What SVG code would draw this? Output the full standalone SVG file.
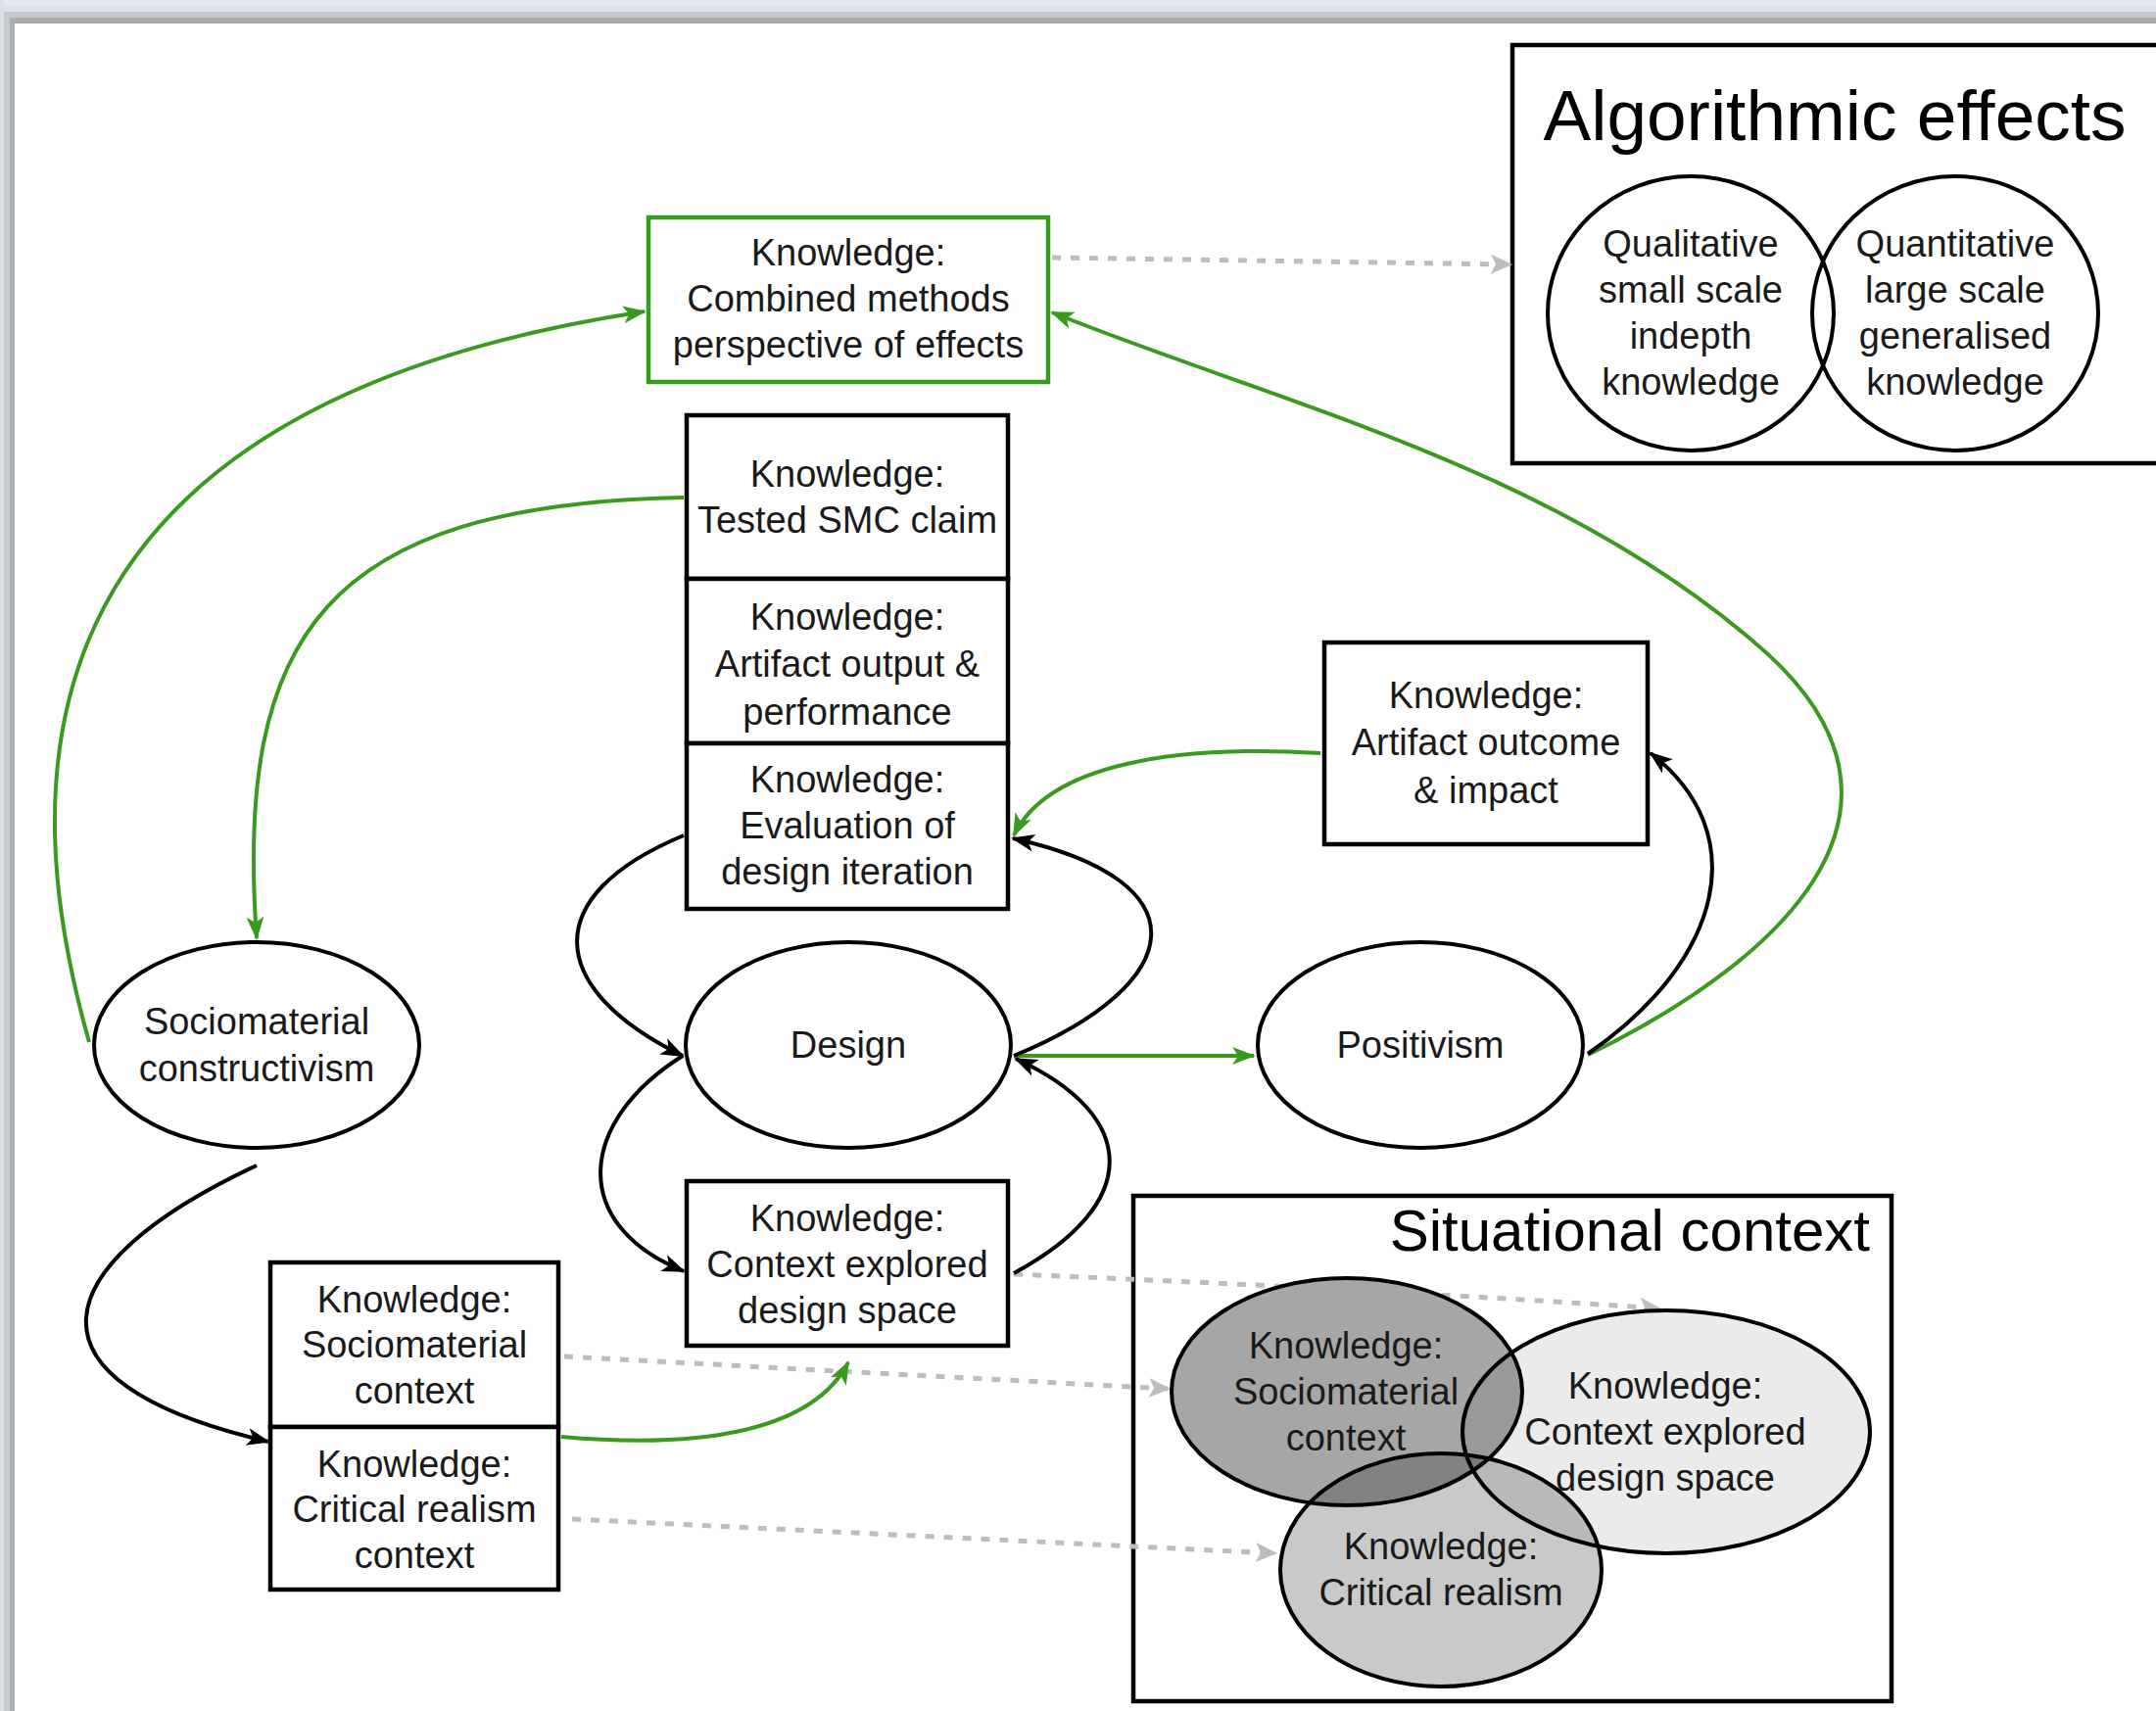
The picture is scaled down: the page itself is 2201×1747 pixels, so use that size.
<svg xmlns="http://www.w3.org/2000/svg" width="2201" height="1747" viewBox="0 0 2201 1747">
<defs>
<style>
.box{fill:#fff;stroke:#000;stroke-width:4.5}
.gbox{fill:#fff;stroke:#3a9a20;stroke-width:4.5}
.ell{fill:#fff;stroke:#000;stroke-width:4}
.t{font-family:"Liberation Sans",Arial,sans-serif;font-size:38px;fill:#1a1a1a;text-anchor:middle;dominant-baseline:central}
.title{font-family:"Liberation Sans",Arial,sans-serif;fill:#000}
.g{fill:none;stroke:#3a9a20;stroke-width:4}
.k{fill:none;stroke:#000;stroke-width:4}
.d{fill:none;stroke:#bdbdbd;stroke-width:5;stroke-dasharray:9 10}
.vo{fill:none;stroke:#000;stroke-width:4}
</style>
<marker id="ag" markerUnits="userSpaceOnUse" markerWidth="26" markerHeight="20" refX="22" refY="10" orient="auto">
<path d="M0,1 L24,10 L0,19 L6,10 z" fill="#3a9a20"/>
</marker>
<marker id="ak" markerUnits="userSpaceOnUse" markerWidth="26" markerHeight="20" refX="22" refY="10" orient="auto">
<path d="M0,1 L24,10 L0,19 L6,10 z" fill="#000"/>
</marker>
<marker id="ad" markerUnits="userSpaceOnUse" markerWidth="26" markerHeight="22" refX="20" refY="11" orient="auto">
<path d="M0,1 L22,11 L0,21 L5,11 z" fill="#bdbdbd"/>
</marker>
</defs>
<rect x="0" y="0" width="2201" height="1747" fill="#fff"/>
<g id="frame">
<rect x="0" y="0" width="2201" height="6" fill="#e4e8f0"/>
<rect x="0" y="6" width="2201" height="6" fill="#dde0e8"/>
<rect x="0" y="12" width="2201" height="6" fill="#c6c9ce"/>
<rect x="0" y="18" width="2201" height="6" fill="#a9abaf"/>
<rect x="0" y="0" width="4" height="1747" fill="#dde0e8"/>
<rect x="4" y="12" width="6" height="1735" fill="#c6c9ce"/>
<rect x="10" y="18" width="5" height="1729" fill="#abaeb2"/>
</g>

<g id="situational-context">
<rect x="1157" y="1221" width="774" height="516" fill="#fff" stroke="#000" stroke-width="4.5"/>
<text class="title" x="1909" y="1277" font-size="60" text-anchor="end">Situational context</text>
</g>

<g id="algorithmic-effects">
<rect x="1544" y="46" width="680" height="427" fill="#fff" stroke="#000" stroke-width="4.5"/>
<text class="title" x="1873" y="143" font-size="73" text-anchor="middle">Algorithmic effects</text>
<g id="qualitative">
<ellipse cx="1726" cy="320" rx="146" ry="140" fill="none" stroke="#000" stroke-width="4"/>
<text class="t" x="1726" y="249">Qualitative</text>
<text class="t" x="1726" y="296">small scale</text>
<text class="t" x="1726" y="343">indepth</text>
<text class="t" x="1726" y="390">knowledge</text>
</g>
<g id="quantitative">
<ellipse cx="1996" cy="320" rx="146" ry="140" fill="none" stroke="#000" stroke-width="4"/>
<text class="t" x="1996" y="249">Quantitative</text>
<text class="t" x="1996" y="296">large scale</text>
<text class="t" x="1996" y="343">generalised</text>
<text class="t" x="1996" y="390">knowledge</text>
</g>
</g>

<g id="connectors">
<path class="d" d="M1074,263 L1542,270" marker-end="url(#ad)"/>
<path class="d" d="M1035,1301 Q1400,1316 1694,1336" marker-end="url(#ad)"/>
<path class="d" d="M576,1385 L1193,1418" marker-end="url(#ad)"/>
<path class="d" d="M584,1551 L1302,1586" marker-end="url(#ad)"/>

<path class="g" d="M91,1064 C22,820 -12,420 658,318" marker-end="url(#ag)"/>
<path class="g" d="M698,508 C330,515 240,650 262,958" marker-end="url(#ag)"/>
<path class="g" d="M1348,769 C1200,760 1070,780 1035,853" marker-end="url(#ag)"/>
<path class="g" d="M1621,1077 C1800,990 2000,830 1790,655 C1580,475 1300,410 1074,319" marker-end="url(#ag)"/>
<path class="g" d="M1035,1078 L1280,1078" marker-end="url(#ag)"/>
<path class="g" d="M573,1467 C720,1480 830,1460 866,1391" marker-end="url(#ag)"/>

<path class="k" d="M698,853 C548,915 558,1010 697,1078" marker-end="url(#ak)"/>
<path class="k" d="M1035,1078 C1212,1005 1232,900 1034,856" marker-end="url(#ak)"/>
<path class="k" d="M697,1078 C590,1145 580,1250 698,1298" marker-end="url(#ak)"/>
<path class="k" d="M1035,1300 C1165,1230 1165,1140 1037,1081" marker-end="url(#ak)"/>
<path class="k" d="M1621,1076 C1760,980 1790,850 1685,769" marker-end="url(#ak)"/>
<path class="k" d="M262,1190 C48,1290 8,1410 274,1472" marker-end="url(#ak)"/>
</g>

<g id="venn">
<ellipse cx="1375" cy="1421" rx="179" ry="116" fill="#fff"/>
<ellipse cx="1701" cy="1462" rx="208" ry="124" fill="#fff"/>
<ellipse cx="1471" cy="1603" rx="164" ry="119" fill="#fff"/>
<ellipse cx="1375" cy="1421" rx="179" ry="116" fill="#000" fill-opacity="0.35"/>
<ellipse cx="1701" cy="1462" rx="208" ry="124" fill="#000" fill-opacity="0.08"/>
<ellipse cx="1471" cy="1603" rx="164" ry="119" fill="#000" fill-opacity="0.21"/>
<ellipse class="vo" cx="1375" cy="1421" rx="179" ry="116"/>
<ellipse class="vo" cx="1701" cy="1462" rx="208" ry="124"/>
<ellipse class="vo" cx="1471" cy="1603" rx="164" ry="119"/>
<g id="v-sociomaterial">
<text class="t" x="1374" y="1374">Knowledge:</text>
<text class="t" x="1374" y="1421">Sociomaterial</text>
<text class="t" x="1374" y="1468">context</text>
</g>
<g id="v-context">
<text class="t" x="1700" y="1415">Knowledge:</text>
<text class="t" x="1700" y="1462">Context explored</text>
<text class="t" x="1700" y="1509">design space</text>
</g>
<g id="v-critical">
<text class="t" x="1471" y="1579">Knowledge:</text>
<text class="t" x="1471" y="1626">Critical realism</text>
</g>
</g>

<g id="combined-methods">
<rect class="gbox" x="662" y="222" width="408" height="168"/>
<text class="t" x="866" y="258">Knowledge:</text>
<text class="t" x="866" y="305">Combined methods</text>
<text class="t" x="866" y="352">perspective of effects</text>
</g>
<g id="tested-smc">
<rect class="box" x="701" y="424" width="328" height="167"/>
<text class="t" x="865" y="484">Knowledge:</text>
<text class="t" x="865" y="531">Tested SMC claim</text>
</g>
<g id="artifact-output">
<rect class="box" x="701" y="591" width="328" height="168"/>
<text class="t" x="865" y="630">Knowledge:</text>
<text class="t" x="865" y="678">Artifact output &amp;</text>
<text class="t" x="865" y="727">performance</text>
</g>
<g id="evaluation">
<rect class="box" x="701" y="759" width="328" height="169"/>
<text class="t" x="865" y="796">Knowledge:</text>
<text class="t" x="865" y="843">Evaluation of</text>
<text class="t" x="865" y="890">design iteration</text>
</g>
<g id="artifact-outcome">
<rect class="box" x="1352" y="656" width="330" height="206"/>
<text class="t" x="1517" y="710">Knowledge:</text>
<text class="t" x="1517" y="758">Artifact outcome</text>
<text class="t" x="1517" y="807">&amp; impact</text>
</g>
<g id="sociomaterial-constructivism">
<ellipse class="ell" cx="262" cy="1067" rx="166" ry="105"/>
<text class="t" x="262" y="1043">Sociomaterial</text>
<text class="t" x="262" y="1091">constructivism</text>
</g>
<g id="design">
<ellipse class="ell" cx="866" cy="1067" rx="166" ry="105"/>
<text class="t" x="866" y="1067">Design</text>
</g>
<g id="positivism">
<ellipse class="ell" cx="1450" cy="1067" rx="166" ry="105"/>
<text class="t" x="1450" y="1067">Positivism</text>
</g>
<g id="context-explored">
<rect class="box" x="701" y="1206" width="328" height="168"/>
<text class="t" x="865" y="1244">Knowledge:</text>
<text class="t" x="865" y="1291">Context explored</text>
<text class="t" x="865" y="1338">design space</text>
</g>
<g id="sociomaterial-context">
<rect class="box" x="276" y="1289" width="294" height="168"/>
<text class="t" x="423" y="1327">Knowledge:</text>
<text class="t" x="423" y="1373">Sociomaterial</text>
<text class="t" x="423" y="1420">context</text>
</g>
<g id="critical-realism-context">
<rect class="box" x="276" y="1457" width="294" height="166"/>
<text class="t" x="423" y="1495">Knowledge:</text>
<text class="t" x="423" y="1541">Critical realism</text>
<text class="t" x="423" y="1588">context</text>
</g>
</svg>
